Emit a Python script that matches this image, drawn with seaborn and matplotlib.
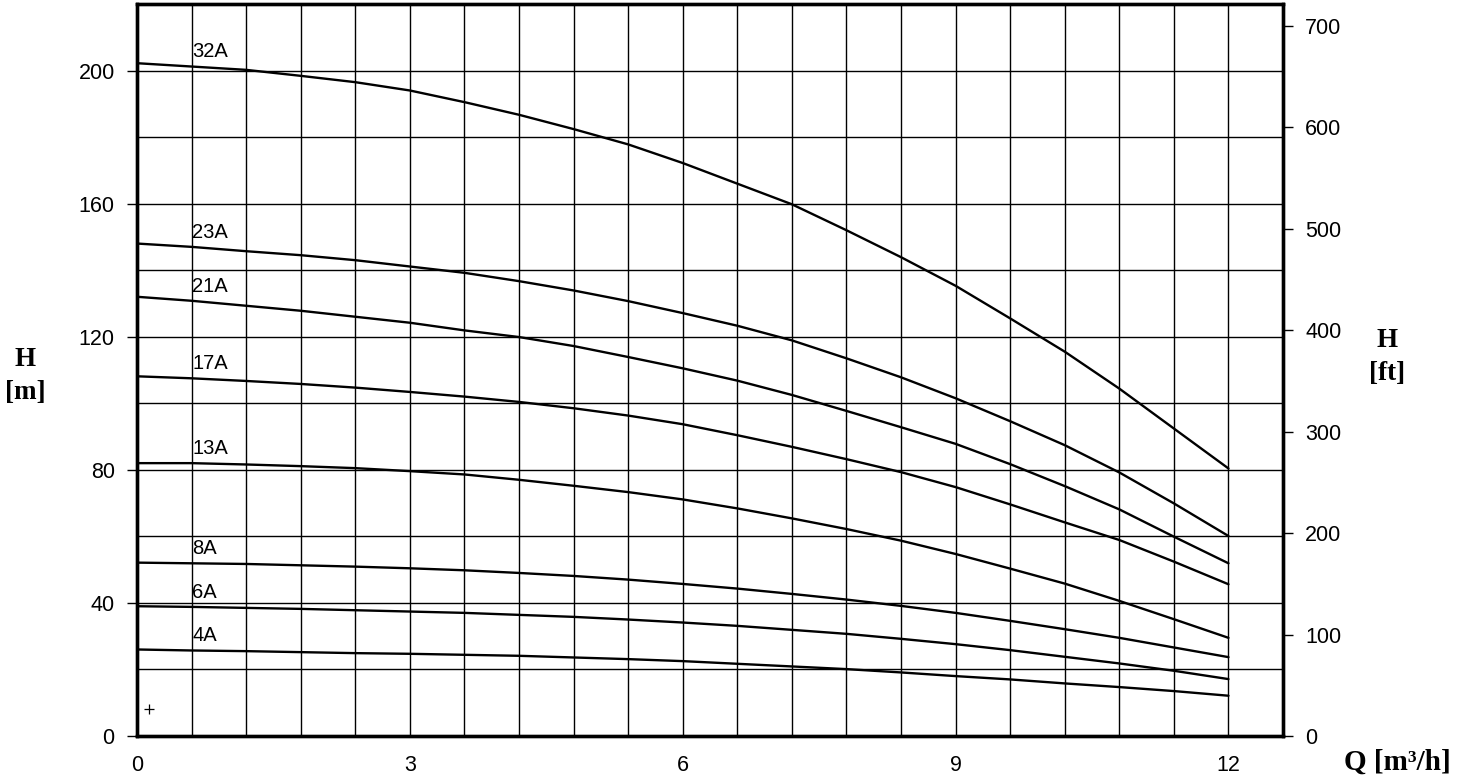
import numpy as np
import pandas as pd
import matplotlib
matplotlib.use("Agg")
import matplotlib.pyplot as plt
from matplotlib.ticker import MultipleLocator
import seaborn as sns

# ---- data ----
Q = [0.0, 0.6, 1.2, 1.8, 2.4, 3.0, 3.6, 4.2, 4.8, 5.4, 6.0,
     6.6, 7.2, 7.8, 8.4, 9.0, 9.6, 10.2, 10.8, 11.4, 12.0]

H_32A = [202.2, 201.2, 200.2, 198.4, 196.5, 194.0, 190.5, 186.7, 182.4, 177.8, 172.2,
         166.0, 159.8, 152.0, 143.9, 135.3, 125.5, 115.5, 104.4, 92.4, 80.4]
H_23A = [148.0, 147.0, 145.7, 144.5, 143.0, 141.1, 139.2, 136.7, 133.9, 130.7, 127.1,
         123.3, 118.9, 113.5, 107.8, 101.5, 94.6, 87.4, 79.2, 69.9, 60.1]
H_21A = [132.0, 130.8, 129.3, 127.8, 126.0, 124.2, 121.9, 119.9, 117.2, 113.9, 110.5,
         106.8, 102.5, 97.7, 92.8, 87.8, 81.7, 75.1, 68.1, 59.9, 51.9]
H_17A = [108.1, 107.5, 106.7, 105.8, 104.7, 103.4, 102.0, 100.4, 98.5, 96.3, 93.7,
         90.4, 86.9, 83.2, 79.3, 74.8, 69.6, 64.2, 58.9, 52.4, 45.6]
H_13A = [82.0, 82.0, 81.6, 81.1, 80.5, 79.6, 78.6, 77.0, 75.2, 73.3, 71.1,
         68.4, 65.4, 62.2, 58.7, 54.7, 50.3, 45.8, 40.6, 35.1, 29.5]
H_8A = [52.1, 51.9, 51.7, 51.3, 50.9, 50.4, 49.8, 49.0, 48.1, 47.0, 45.7,
        44.3, 42.7, 41.0, 39.1, 37.0, 34.6, 32.1, 29.5, 26.6, 23.7]
H_6A = [39.0, 38.8, 38.5, 38.2, 37.8, 37.4, 37.0, 36.4, 35.8, 35.0, 34.1,
        33.1, 31.9, 30.7, 29.2, 27.6, 25.8, 23.8, 21.8, 19.6, 17.1]
H_4A = [26.0, 25.7, 25.5, 25.2, 24.9, 24.7, 24.4, 24.1, 23.6, 23.1, 22.5,
        21.7, 20.9, 20.1, 19.1, 18.0, 17.0, 15.8, 14.7, 13.5, 12.1]

curve_names = ["32A", "23A", "21A", "17A", "13A", "8A", "6A", "4A"]
curve_values = [H_32A, H_23A, H_21A, H_17A, H_13A, H_8A, H_6A, H_4A]

marker_q = [0.13]
marker_h = [8.1]

x_ticks = [0, 3, 6, 9, 12]
y_ticks_m = [0, 40, 80, 120, 160, 200]
y_ticks_ft = [0, 100, 200, 300, 400, 500, 600, 700]
M_TO_FT = 3.28084

# ---- long-form table ----
df = pd.concat(
    [pd.DataFrame({"Q": Q, "H": h, "pump": n}) for n, h in zip(curve_names, curve_values)],
    ignore_index=True,
)

sns.set_style("white")
plt.rcParams["font.family"] = ["Liberation Sans", "DejaVu Sans"]

fig = plt.figure(figsize=(14.63, 7.78), dpi=100)
ax = fig.add_axes([0.0936, 0.054, 0.877 - 0.0936, 0.9949 - 0.054])

sns.lineplot(data=df, x="Q", y="H", hue="pump", units="pump", estimator=None,
             palette={n: "black" for n in curve_names}, linewidth=1.7,
             sort=False, legend=False, ax=ax, zorder=3)

ax.plot(marker_q, marker_h, marker="+", color="black", linestyle="none",
        markersize=7, markeredgewidth=0.9, zorder=3)

# curve labels just above each curve at the second grid column
for n, h in zip(curve_names, curve_values):
    ax.annotate(n, xy=(Q[1], h[1]), xytext=(0.5, 10.5), textcoords="offset points",
                ha="left", va="center", fontsize=14.5, color="black", zorder=4)

ax.set_xlim(0, 12.6)
ax.set_ylim(0, 220)
ax.xaxis.set_major_locator(plt.FixedLocator(x_ticks))
ax.xaxis.set_minor_locator(MultipleLocator(0.6))
ax.yaxis.set_major_locator(plt.FixedLocator(y_ticks_m))
ax.yaxis.set_minor_locator(MultipleLocator(20))
ax.grid(which="both", color="black", linewidth=1.0, zorder=1)
ax.set_axisbelow(True)
ax.set_xlabel("")
ax.set_ylabel("")

ax.tick_params(axis="both", which="major", direction="out", length=7, width=1.0,
               labelsize=15.5, colors="black", pad=9)
ax.tick_params(axis="x", which="major", pad=7)
ax.tick_params(which="minor", length=0)
for s in ax.spines.values():
    s.set_visible(True)
    s.set_linewidth(2.4)
    s.set_color("black")

ax2 = ax.twinx()
ax2.set_ylim(0, 220 * M_TO_FT)
ax2.yaxis.set_major_locator(plt.FixedLocator(y_ticks_ft))
ax2.grid(False)
ax2.tick_params(axis="y", direction="out", length=7, width=1.0, labelsize=15.5,
                colors="black", pad=9)
for s in ax2.spines.values():
    s.set_linewidth(2.4)
    s.set_color("black")

serif = dict(family=["Liberation Serif", "DejaVu Serif"], fontweight="bold",
             color="black")
fig.text(25 / 1463, 1 - 376 / 778, "H\n[m]", ha="center", va="center",
         linespacing=1.45, fontsize=19.5, **serif)
fig.text(1387 / 1463, 1 - 357 / 778, "H\n[ft]", ha="center", va="center",
         linespacing=1.45, fontsize=19.5, **serif)
fig.text(1397 / 1463, 1 - 762 / 778, "Q [m\u00b3/h]", ha="center", va="center",
         fontsize=21, **serif)

fig.savefig("out.png", dpi=100, facecolor="white")
